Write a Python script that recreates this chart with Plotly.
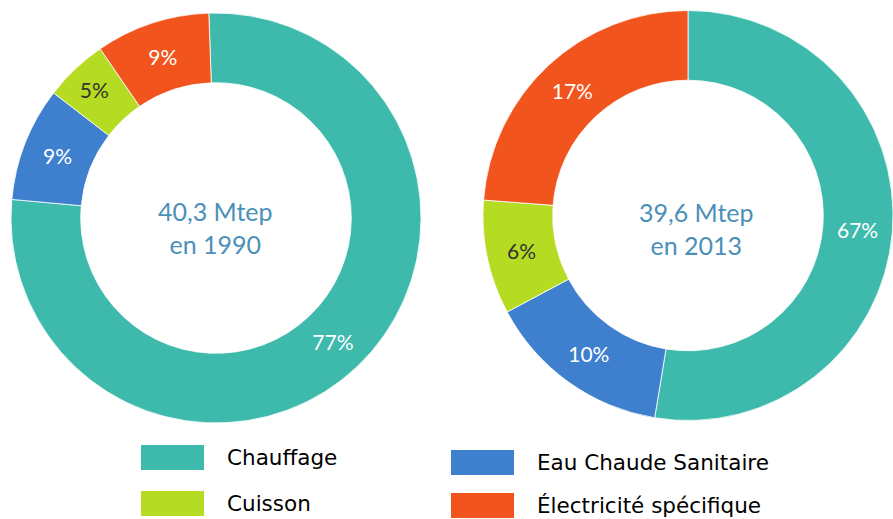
import plotly.graph_objects as go

# ---- data ----
categories = ["Chauffage", "Eau Chaude Sanitaire", "Cuisson", "Électricité spécifique"]
colors = ["#3dbaab", "#3e7fce", "#b5dc22", "#f2541e"]

# slice sizes as drawn (share of the ring, %)
values_1990 = [77, 9, 5, 9]
values_2013 = [52.6, 14.6, 9.0, 23.8]
# printed labels
labels_1990 = ["77%", "9%", "5%", "9%"]
labels_2013 = ["67%", "10%", "6%", "17%"]
text_colors = ["white", "white", "#333333", "white"]

center_1990 = "40,3 Mtep<br>en 1990"
center_2013 = "39,6 Mtep<br>en 2013"

# legend layout order (column-wise as in reference)
legend_order = ["Chauffage", "Cuisson", "Eau Chaude Sanitaire", "Électricité spécifique"]

W, H = 893, 519
def px(x):
    return x / W
def py(y):
    return 1 - y / H

dom1 = dict(x=[px(11), px(421)], y=[py(423), py(13)])
dom2 = dict(x=[px(483), 1.0], y=[py(421), py(10)])

fig = go.Figure()
for vals, labs, dom, rot in [(values_1990, labels_1990, dom1, -2),
                             (values_2013, labels_2013, dom2, 0)]:
    fig.add_trace(go.Pie(
        labels=categories, values=vals, text=labs, textinfo="text",
        textposition="inside", insidetextorientation="horizontal",
        hole=0.66, sort=False, direction="clockwise", rotation=rot,
        marker=dict(colors=colors, line=dict(color="white", width=0.8)),
        textfont=dict(family="Lato", size=21, color=text_colors),
        domain=dom, showlegend=False, hoverinfo="label+text",
    ))

center_font = dict(family="Lato", size=25, color="#4a90b8")
fig.add_annotation(x=px(215), y=py(227), xref="paper", yref="paper",
                   xanchor="center", yanchor="middle",
                   text=center_1990, showarrow=False, font=center_font, align="center")
fig.add_annotation(x=px(696), y=py(228), xref="paper", yref="paper",
                   xanchor="center", yanchor="middle",
                   text=center_2013, showarrow=False, font=center_font, align="center")

# legend drawn as big swatches
swatch_pos = {
    "Chauffage": (141, 445),
    "Cuisson": (141, 491),
    "Eau Chaude Sanitaire": (451, 450),
    "Électricité spécifique": (451, 493),
}
for name in legend_order:
    x0, y0 = swatch_pos[name]
    col = colors[categories.index(name)]
    fig.add_shape(type="rect", xref="paper", yref="paper",
                  x0=px(x0), x1=px(x0 + 63), y0=py(y0 + 25), y1=py(y0),
                  fillcolor=col, line=dict(width=0))
    fig.add_annotation(x=px(x0 + 84), y=py(y0 + 12), xref="paper", yref="paper",
                       text=name, showarrow=False, xanchor="left", yanchor="middle",
                       font=dict(family="DejaVu Sans", size=21.5, color="black"))

fig.update_layout(
    width=W, height=H,
    margin=dict(l=0, r=0, t=0, b=0),
    paper_bgcolor="white", plot_bgcolor="white",
)

fig.write_html("out.html", config={"displayModeBar": False},
               post_script="document.body.style.margin='0';document.body.style.overflow='hidden';")
